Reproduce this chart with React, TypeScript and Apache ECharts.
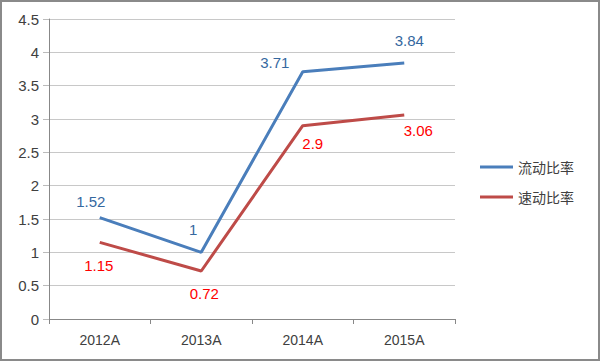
import React, { useEffect, useRef } from "react";
import * as echarts from "echarts";

const categories = ["2012A", "2013A", "2014A", "2015A"];
const currentRatio = [1.52, 1, 3.71, 3.84];
const quickRatio = [1.15, 0.72, 2.9, 3.06];
const seriesNames = ["流动比率", "速动比率"];
const seriesColors = ["#4a7ebb", "#be4b48"];

const FONT = "'Liberation Sans', 'Noto Sans CJK SC', sans-serif";

export default function App() {
  const ref = useRef<HTMLDivElement>(null);
  useEffect(() => {
    const chart = echarts.init(ref.current!, undefined, { renderer: "svg" });
    const blueOffsets: any = { 0: [-9, 0], 1: [-8, -6], 2: [-28, 7], 3: [5, -6] };
    const redOffsets: any = { 0: [-1, 5], 1: [3, 4], 2: [10, -1], 3: [14, -3] };
    chart.setOption({
      animation: false,
      textStyle: { fontFamily: FONT },
      grid: { left: 49, right: 145, top: 19, bottom: 42 },
      legend: {
        orient: "vertical",
        left: 475,
        top: 155,
        itemWidth: 33,
        itemHeight: 3,
        itemGap: 16,
        icon: "rect",
        textStyle: { fontSize: 14, color: "#404040", fontFamily: "'Noto Sans CJK SC', sans-serif" },
        data: seriesNames.map((n, i) => ({ name: n, itemStyle: { color: seriesColors[i], opacity: 1 } })),
      },
      xAxis: {
        type: "category",
        data: categories,
        boundaryGap: true,
        axisLine: { lineStyle: { color: "#888", width: 1 } },
        axisTick: { show: true, length: 5, lineStyle: { color: "#888" } },
        axisLabel: { fontSize: 14, color: "#404040", margin: 14 },
      },
      yAxis: {
        type: "value",
        min: 0,
        max: 4.5,
        interval: 0.5,
        axisLine: { show: true, lineStyle: { color: "#888" } },
        axisTick: { show: true, length: 6, lineStyle: { color: "#bbb" } },
        splitLine: { lineStyle: { color: "#c8c8c8" } },
        axisLabel: { fontSize: 15, color: "#404040", margin: 10 },
      },
      series: [
        {
          name: seriesNames[0],
          type: "line",
          data: currentRatio.map((v, i) => ({
            value: v,
            label: blueOffsets[i] ? { offset: blueOffsets[i] } : undefined,
          })),
          symbol: "circle",
          symbolSize: 2,
          showSymbol: true,
          itemStyle: { color: "rgba(0,0,0,0)", borderWidth: 0 },
          lineStyle: { width: 3, color: seriesColors[0] },
          label: { show: true, position: "top", distance: 8, fontSize: 15, color: "#35689f", opacity: 1 },
        },
        {
          name: seriesNames[1],
          type: "line",
          data: quickRatio.map((v, i) => ({
            value: v,
            label: redOffsets[i] ? { offset: redOffsets[i] } : undefined,
          })),
          symbol: "circle",
          symbolSize: 2,
          showSymbol: true,
          itemStyle: { color: "rgba(0,0,0,0)", borderWidth: 0 },
          lineStyle: { width: 3, color: seriesColors[1] },
          label: { show: true, position: "bottom", distance: 10, fontSize: 15, color: "#ff0000", opacity: 1 },
        },
      ],
    });
    return () => chart.dispose();
  }, []);
  return (
    <div
      style={{
        position: "fixed",
        left: 0,
        top: 0,
        width: 600,
        height: 361,
        boxSizing: "border-box",
        border: "2px solid #8a8a8a",
        background: "#fff",
      }}
    >
      <div ref={ref} style={{ position: "absolute", left: -2, top: -2, width: 600, height: 361 }} />
    </div>
  );
}
